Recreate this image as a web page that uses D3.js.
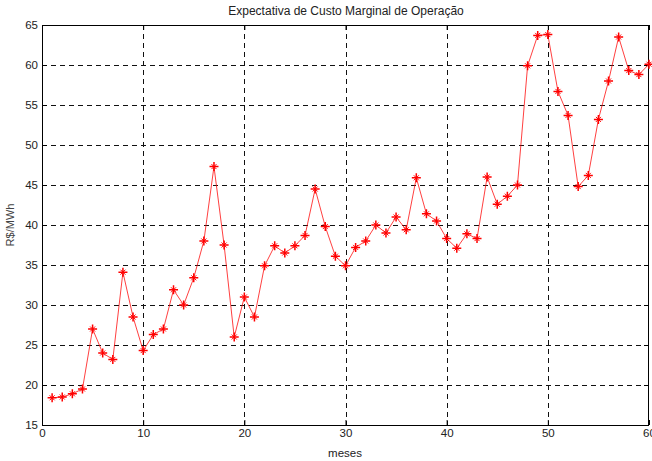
<!DOCTYPE html>
<html>
<head>
<meta charset="utf-8">
<script src="https://cdn.jsdelivr.net/npm/d3@7"></script>
<style>
  html, body { margin: 0; padding: 0; background: #fff; }
  svg { display: block; font-family: "Liberation Sans", Arial, sans-serif; }
</style>
</head>
<body>
<svg id="chart" width="652" height="461"></svg>
<script>
// Monthly expected marginal operating cost (R$/MWh), months 1..60
const months = d3.range(1, 61);
const cost = [
  18.4, 18.5, 18.9, 19.5, 27.0, 24.0, 23.2, 34.1, 28.5, 24.3,
  26.3, 27.0, 31.9, 30.0, 33.4, 38.0, 47.3, 37.5, 26.0, 31.0,
  28.5, 34.9, 37.4, 36.5, 37.4, 38.7, 44.5, 39.8, 36.1, 34.9,
  37.2, 38.0, 40.0, 39.0, 41.0, 39.4, 45.9, 41.4, 40.5, 38.3,
  37.1, 38.9, 38.3, 46.0, 42.6, 43.6, 45.0, 59.9, 63.7, 63.8,
  56.7, 53.7, 44.8, 46.2, 53.2, 58.0, 63.5, 59.3, 58.8, 60.1
];
const xTicks = [0, 10, 20, 30, 40, 50, 60];
const yTicks = [15, 20, 25, 30, 35, 40, 45, 50, 55, 60, 65];
const title = "Expectativa de Custo Marginal de Operação";
const xLabel = "meses";
const yLabel = "R$/MWh";

const svg = d3.select("#chart");
const plotL = 42, plotR = 649, plotT = 25, plotB = 425;
const W = plotR - plotL, H = plotB - plotT;

const x = d3.scaleLinear().domain([0, 60]).range([plotL, plotR]);
const y = d3.scaleLinear().domain([15, 65]).range([plotB, plotT]);

// dashed grid
const grid = svg.append("g").attr("stroke", "#111").attr("stroke-width", 1)
  .attr("stroke-dasharray", "5,4").attr("fill", "none");
grid.selectAll("line.gx").data(xTicks.filter(d => d > 0 && d < 60)).join("line")
  .attr("class", "gx")
  .attr("x1", d => Math.round(x(d)) + 0.5).attr("x2", d => Math.round(x(d)) + 0.5)
  .attr("y1", plotT).attr("y2", plotB);
grid.selectAll("line.gy").data(yTicks.filter(d => d > 15 && d < 65)).join("line")
  .attr("class", "gy")
  .attr("y1", d => Math.round(y(d)) + 0.5).attr("y2", d => Math.round(y(d)) + 0.5)
  .attr("x1", plotL).attr("x2", plotR);

// axes with inward ticks
const fmt = d3.format("d");
const axL = svg.append("g").attr("transform", `translate(${plotL},0)`)
  .call(d3.axisLeft(y).tickValues(yTicks).tickSize(-5).tickPadding(4).tickFormat(fmt));
const axB = svg.append("g").attr("transform", `translate(0,${plotB})`)
  .call(d3.axisBottom(x).tickValues(xTicks).tickSize(-5).tickPadding(4).tickFormat(fmt));
const axR = svg.append("g").attr("transform", `translate(${plotR},0)`)
  .call(d3.axisRight(y).tickValues(yTicks).tickSize(-5).tickFormat(""));
const axT = svg.append("g").attr("transform", `translate(0,${plotT})`)
  .call(d3.axisTop(x).tickValues(xTicks).tickSize(-5).tickFormat(""));
[axL, axB, axR, axT].forEach(a => {
  a.select(".domain").remove();
  a.selectAll(".tick line").attr("stroke", "#000");
  a.selectAll("text").attr("fill", "#222").style("font-size", "11.5px")
    .style("font-family", "'Liberation Sans', Arial, sans-serif");
});

// frame
svg.append("rect").attr("x", plotL + 0.5).attr("y", plotT + 0.5)
  .attr("width", W - 1).attr("height", H).attr("fill", "none")
  .attr("stroke", "#000").attr("stroke-width", 1);

// series line
const line = d3.line().x((d, i) => x(months[i])).y(d => y(d));
svg.append("path").datum(cost).attr("d", line)
  .attr("fill", "none").attr("stroke", "#ff0000").attr("stroke-width", 1)
  .attr("stroke-opacity", 0.75);

// star markers: bold plus with a lighter diagonal cross
const s = 4.5, c = 2.5;
const plus = `M${-s},0H${s}M0,${-s}V${s}`;
const cross = `M${-c},${-c}L${c},${c}M${-c},${c}L${c},${-c}`;
const mk = svg.append("g").selectAll("g").data(cost).join("g")
  .attr("transform", (d, i) => `translate(${x(months[i])},${y(d)})`);
mk.append("path").attr("d", plus).attr("fill", "none")
  .attr("stroke", "#ff0000").attr("stroke-width", 1.5);
mk.append("path").attr("d", cross).attr("fill", "none")
  .attr("stroke", "#ff0000").attr("stroke-width", 1);

// texts
svg.append("text").attr("x", 346).attr("y", 15)
  .attr("text-anchor", "middle").attr("fill", "#222").style("font-size", "12px").text(title);
svg.append("text").attr("x", 345).attr("y", 457)
  .attr("text-anchor", "middle").attr("fill", "#222").style("font-size", "11.5px").text(xLabel);
svg.append("text").attr("transform", `translate(14,${(plotT + plotB) / 2}) rotate(-90)`)
  .attr("text-anchor", "middle").attr("fill", "#444").style("font-size", "11px").text(yLabel);
</script>
</body>
</html>
